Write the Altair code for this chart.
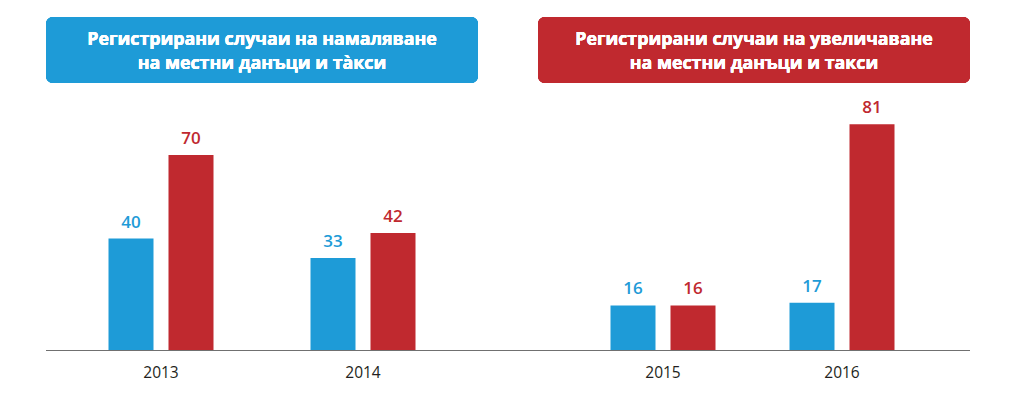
import altair as alt
import pandas as pd

# ---- data ----
years_left = ["2013", "2014"]
years_right = ["2015", "2016"]
decrease = [40, 33, 16, 17]   # blue series
increase = [70, 42, 16, 81]   # red series
years = years_left + years_right
series = ["Намаляване", "Увеличаване"]
title_left = ["Регистрирани случаи на намаляване", "на местни данъци и та̀кси"]
title_right = ["Регистрирани случаи на увеличаване", "на местни данъци и такси"]

BLUE = "#1e9bd7"
RED = "#c0292f"
FONT = "Open Sans"

rows = []
for i, y in enumerate(years):
    rows.append({"year": y, "series": series[0], "value": decrease[i]})
    rows.append({"year": y, "series": series[1], "value": increase[i]})
df = pd.DataFrame(rows)

H = 333
YMAX = 119.5


def panel(yrs, width, x_pad_outer, off_pad_outer, box_x0, rule_x2, title, box_color):
    d = df[df["year"].isin(yrs)]
    x = alt.X("year:N", sort=yrs,
              scale=alt.Scale(paddingInner=0, paddingOuter=x_pad_outer),
              axis=alt.Axis(title=None, domain=False, ticks=False, tickSize=0,
                            labelAngle=0, labelPadding=15, labelFontSize=15.5,
                            labelColor="#231f20", labelFont=FONT, grid=False))
    xo = alt.XOffset("series:N", sort=series,
                     scale=alt.Scale(paddingInner=0.25, paddingOuter=off_pad_outer))
    y = alt.Y("value:Q", scale=alt.Scale(domain=[0, YMAX], nice=False), axis=None)
    color = alt.Color("series:N", sort=series,
                      scale=alt.Scale(domain=series, range=[BLUE, RED]), legend=None)
    base = alt.Chart(d).encode(x=x, xOffset=xo, y=y, color=color)
    bars = base.mark_bar(size=45)
    labels = base.mark_text(baseline="alphabetic", dy=-11, fontSize=17,
                            fontWeight=600, font=FONT).encode(text="value:Q")
    rule = alt.Chart(d).mark_rule(color="#707070", strokeWidth=1.2).encode(
        x=alt.value(0), x2=alt.value(rule_x2), y=alt.value(H + 0.5))
    box = alt.Chart(d).mark_rect(color=box_color, cornerRadius=7).encode(
        x=alt.value(box_x0), x2=alt.value(box_x0 + 432), y=alt.value(0), y2=alt.value(66))
    t1 = alt.Chart(d).mark_text(color="white", fontSize=17.8, fontWeight="bold",
                                font=FONT, baseline="middle").encode(
        x=alt.value(box_x0 + 216), y=alt.value(23), text=alt.value(title[0]))
    t2 = alt.Chart(d).mark_text(color="white", fontSize=17.8, fontWeight="bold",
                                font=FONT, baseline="middle").encode(
        x=alt.value(box_x0 + 216), y=alt.value(47), text=alt.value(title[1]))
    return alt.layer(rule, bars, labels, box, t1, t2).properties(width=width, height=H)


left = panel(years_left, 432, (432 / 202 - 2) / 2, (202 / 60 - 1.75) / 2, 0, 432 + 57,
             title_left, BLUE)
right = panel(years_right, 435, (435 / 179 - 2) / 2, (179 / 60 - 1.75) / 2, 3, 435,
              title_right, RED)

chart = alt.hconcat(left, right, spacing=57, bounds="flush").resolve_scale(
    x="independent", xOffset="independent", y="shared"
).properties(
    padding={"left": 37, "top": 9, "right": 5, "bottom": 5},
    background="white",
).configure_view(strokeWidth=0, stroke=None)

chart.save("out.html", embed_options={"renderer": "svg", "actions": False})
